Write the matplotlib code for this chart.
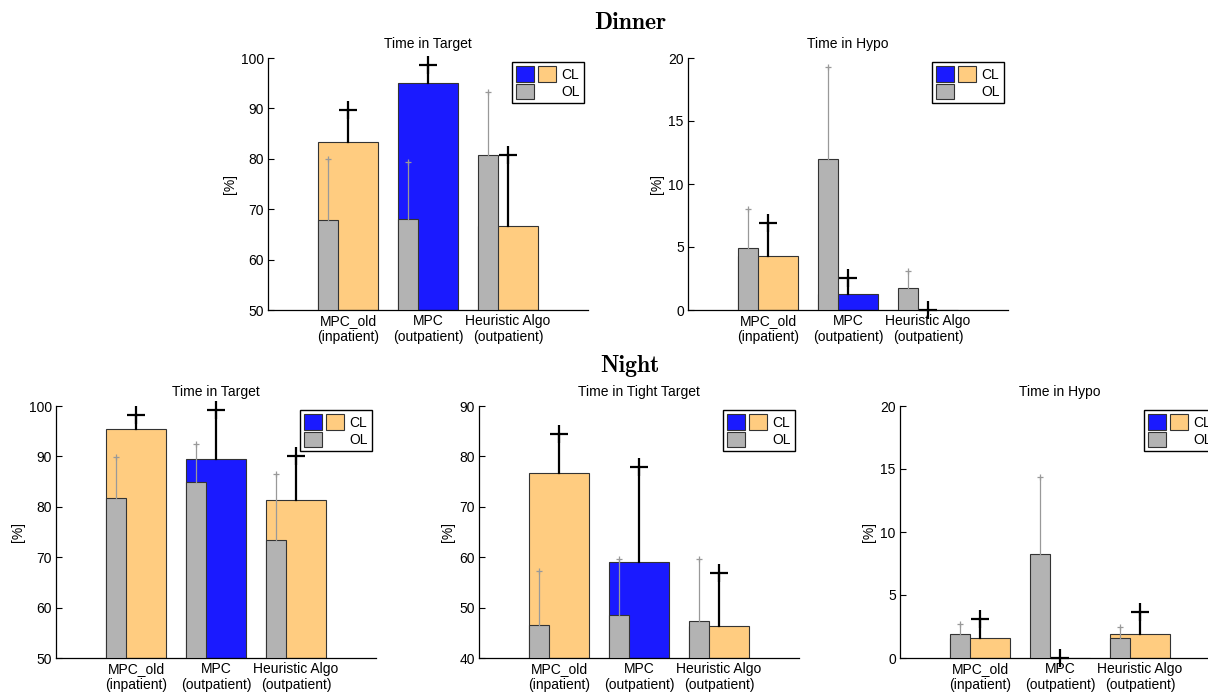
"""Dinner / Night glucose control outcomes: CL vs OL bars with std error bars."""

import matplotlib
matplotlib.use("Agg")

import numpy as np
import matplotlib.pyplot as plt
from matplotlib.patches import Patch
from matplotlib.legend_handler import HandlerTuple

plt.rcParams["font.family"] = ["Liberation Sans", "DejaVu Sans"]

groups = ["MPC_old\n(inpatient)", "MPC\n(outpatient)", "Heuristic Algo\n(outpatient)"]

# Dinner - Time in Target
din_tgt_cl = [83.4, 95.0, 66.6]
din_tgt_cl_sd = [6.3, 3.7, 14.1]
din_tgt_ol = [67.9, 68.1, 80.7]
din_tgt_ol_sd = [12.1, 11.2, 12.5]

# Dinner - Time in Hypo
din_hypo_cl = [4.25, 1.25, 0.0]
din_hypo_cl_sd = [2.65, 1.27, 0.0]
din_hypo_ol = [4.9, 12.0, 1.77]
din_hypo_ol_sd = [3.1, 7.3, 1.35]

# Night - Time in Target
nig_tgt_cl = [95.5, 89.5, 81.3]
nig_tgt_cl_sd = [2.7, 9.8, 8.8]
nig_tgt_ol = [81.8, 85.0, 73.5]
nig_tgt_ol_sd = [8.1, 7.4, 13.1]

# Night - Time in Tight Target
nig_tight_cl = [76.7, 59.1, 46.3]
nig_tight_cl_sd = [7.7, 18.8, 10.5]
nig_tight_ol = [46.5, 48.6, 47.3]
nig_tight_ol_sd = [10.8, 11.1, 12.4]

# Night - Time in Hypo
nig_hypo_cl = [1.61, 0.0, 1.93]
nig_hypo_cl_sd = [1.5, 0.0, 1.74]
nig_hypo_ol = [1.87, 8.23, 1.61]
nig_hypo_ol_sd = [0.83, 6.1, 0.84]

BLUE = "#1a1aff"
ORANGE = "#ffcc80"
GRAY = "#b3b3b3"
cl_colors = [ORANGE, BLUE, ORANGE]

FS = 10
W, H = 1208, 693


def add_axes(fig, left, top, width=320, height=252):
    return fig.add_axes([left / W, 1 - (top + height) / H, width / W, height / H])


def panel(ax, title, cl, cl_sd, ol, ol_sd, ylim, yticks):
    x = np.arange(1, len(groups) + 1)
    cl = np.asarray(cl)
    ol = np.asarray(ol)
    ax.bar(x, cl - ylim[0], bottom=ylim[0], width=0.75, color=cl_colors,
           edgecolor="#333333", linewidth=0.8, zorder=2)
    ax.bar(x - 0.25, ol - ylim[0], bottom=ylim[0], width=0.25, color=GRAY,
           edgecolor="#333333", linewidth=0.8, zorder=3)

    for xi, v, e in zip(x - 0.25, ol, ol_sd):
        ax.plot([xi, xi], [v, v + e], color="#999999", lw=0.9, zorder=4)
        ax.plot(xi, v + e, marker="+", ms=5, mew=0.9, color="#999999", zorder=4)
    for xi, v, e in zip(x, cl, cl_sd):
        ax.plot([xi, xi], [v, v + e], color="black", lw=1.6, zorder=5, clip_on=False)
        ax.plot(xi, v + e, marker="+", ms=13, mew=1.6, color="black", zorder=5,
                clip_on=False)

    ax.set_xlim(0, 4)
    ax.set_ylim(*ylim)
    ax.set_yticks(yticks)
    ax.set_xticks(x)
    ax.set_xticklabels(groups, fontsize=FS, linespacing=1.15)
    ax.tick_params(axis="x", length=0, pad=3)
    ax.tick_params(axis="y", direction="in", length=4, labelsize=FS, pad=3)
    for s in ("top", "right"):
        ax.spines[s].set_visible(False)
    for s in ("left", "bottom"):
        ax.spines[s].set_linewidth(0.9)
    ax.set_ylabel("[%]", fontsize=FS, labelpad=3)
    ax.set_title(title, fontsize=FS, pad=7)

    blue = Patch(fc=BLUE, ec="#333333", lw=0.8)
    orange = Patch(fc=ORANGE, ec="#333333", lw=0.8)
    gray = Patch(fc=GRAY, ec="#333333", lw=0.8)
    blank = Patch(fc="none", ec="none")
    leg = ax.legend([(blue, orange), (gray, blank)], ["CL", "OL"],
                    handler_map={tuple: HandlerTuple(ndivide=None, pad=0.3)},
                    loc="upper right", fancybox=False, framealpha=1,
                    edgecolor="black", fontsize=FS, handlelength=2.9,
                    handleheight=1.35, borderpad=0.3, labelspacing=0.12,
                    handletextpad=0.35, borderaxespad=0.3)
    leg.get_frame().set_linewidth(1.0)


fig = plt.figure(figsize=(W / 100, H / 100), dpi=100)

ax1 = add_axes(fig, 268, 58)
panel(ax1, "Time in Target", din_tgt_cl, din_tgt_cl_sd, din_tgt_ol, din_tgt_ol_sd,
      (50, 100), [50, 60, 70, 80, 90, 100])
ax2 = add_axes(fig, 688, 58)
panel(ax2, "Time in Hypo", din_hypo_cl, din_hypo_cl_sd, din_hypo_ol, din_hypo_ol_sd,
      (0, 20), [0, 5, 10, 15, 20])

ax3 = add_axes(fig, 56, 406)
panel(ax3, "Time in Target", nig_tgt_cl, nig_tgt_cl_sd, nig_tgt_ol, nig_tgt_ol_sd,
      (50, 100), [50, 60, 70, 80, 90, 100])
ax4 = add_axes(fig, 479, 406)
panel(ax4, "Time in Tight Target", nig_tight_cl, nig_tight_cl_sd, nig_tight_ol,
      nig_tight_ol_sd, (40, 90), [40, 50, 60, 70, 80, 90])
ax5 = add_axes(fig, 900, 406)
panel(ax5, "Time in Hypo", nig_hypo_cl, nig_hypo_cl_sd, nig_hypo_ol, nig_hypo_ol_sd,
      (0, 20), [0, 5, 10, 15, 20])

fig.text(630 / W, 1 - 23 / H, "Dinner", fontfamily="cmb10", fontsize=17,
         ha="center", va="center")
fig.text(630 / W, 1 - 366 / H, "Night", fontfamily="cmb10", fontsize=17,
         ha="center", va="center")

fig.savefig("out.png", dpi=100)
plt.close(fig)
